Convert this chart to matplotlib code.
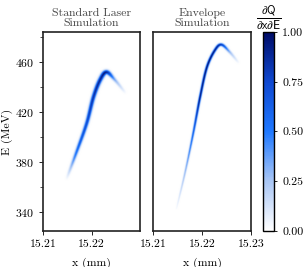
import numpy as np
import matplotlib
matplotlib.use("Agg")
import matplotlib.pyplot as plt
from matplotlib.colors import LinearSegmentedColormap

plt.rcParams['font.family'] = 'serif'
plt.rcParams['font.serif'] = ['cmr10', 'DejaVu Serif']
plt.rcParams['mathtext.fontset'] = 'cm'
plt.rcParams['axes.formatter.use_mathtext'] = True

# ridge of the charge density
std_x = [15.2149, 15.2169, 15.2190, 15.2204, 15.2218, 15.2231, 15.2248, 15.2269]
std_E = [367, 388, 411, 432, 446, 452, 446, 436]
std_I = [0.03, 0.55, 0.75, 0.85, 0.9, 0.9, 0.35, 0.03]
std_w = [1.0, 1.2, 1.3, 1.4, 1.5, 1.5, 1.2, 1.0]

env_x = [15.2148, 15.2165, 15.2182, 15.2196, 15.2210, 15.2227, 15.2240, 15.2257, 15.2274]
env_E = [343, 371, 403, 432, 456, 470, 474, 468, 460]
env_I = [0.03, 0.3, 0.65, 1.0, 1.0, 0.95, 0.8, 0.3, 0.03]
env_w = [0.6, 0.7, 0.8, 0.85, 0.9, 0.95, 1.0, 1.0, 0.9]

xlim = (15.21, 15.23)
ylim = (325, 484)
sx = 97 / 0.02   # px per mm
sy = 1.25        # px per MeV

cmap = LinearSegmentedColormap.from_list(
    'q', [(0, '#ffffff'), (0.25, '#a9c6f5'), (0.5, '#1f78ff'), (0.75, '#0f48d0'), (1, '#000c66')])


def catmull(p, n=40):
    # smooth path through the ridge points
    p = np.asarray(p, float)
    q = np.concatenate([[2 * p[0] - p[1]], p, [2 * p[-1] - p[-2]]])
    out = []
    for i in range(1, len(q) - 2):
        t = np.linspace(0, 1, n, endpoint=False)
        a, b, c, d = q[i - 1], q[i], q[i + 1], q[i + 2]
        out.append(0.5 * (2 * b + (-a + c) * t + (2 * a - 5 * b + 4 * c - d) * t ** 2
                          + (-a + 3 * b - 3 * c + d) * t ** 3))
    out.append([p[-1]])
    return np.concatenate(out)


def density(px, pE, pI, pw, n=450):
    xs = catmull(px)
    Es = catmull(pE)
    Is = np.clip(catmull(pI), 0, 1)
    ws = catmull(pw)
    gx = np.linspace(*xlim, n)
    gE = np.linspace(*ylim, n)
    X, Y = np.meshgrid(gx, gE)
    out = np.zeros_like(X)
    for xi, Ei, Ii, wi in zip(xs, Es, Is, ws):
        d2 = ((X - xi) * sx) ** 2 + ((Y - Ei) * sy) ** 2
        out = np.maximum(out, Ii * np.exp(-d2 / (2 * wi ** 2)))
    return out


fs = 8.5
fig = plt.figure(figsize=(3.03, 2.67), dpi=100)
ax1 = fig.add_axes([0.142, 0.135, 0.320, 0.745])
ax2 = fig.add_axes([0.505, 0.135, 0.323, 0.745])
cax = fig.add_axes([0.868, 0.135, 0.036, 0.745])

for ax, data, title in [(ax1, density(std_x, std_E, std_I, std_w), 'Standard Laser\nSimulation'),
                        (ax2, density(env_x, env_E, env_I, env_w), 'Envelope\nSimulation')]:
    im = ax.imshow(data, origin='lower', extent=(*xlim, *ylim), aspect='auto',
                   cmap=cmap, vmin=0, vmax=1, interpolation='antialiased')
    ax.set_xlim(*xlim)
    ax.set_ylim(*ylim)
    ax.set_title(title, fontsize=fs, color='#444444', pad=4, linespacing=1.1)
    ax.set_xlabel('x (mm)', fontsize=fs, labelpad=6)
    for s in ax.spines.values():
        s.set_linewidth(1.2)
        s.set_color('#222222')
    ax.tick_params(labelsize=fs, direction='out', length=3, width=0.6)

ax1.set_xticks([15.21, 15.22])
ax1.set_xticklabels(['15.21', '15.22'])
ax1.set_yticks([340, 380, 420, 460])
ax1.set_yticks([360, 400, 440, 480], minor=True)
ax1.tick_params(axis='y', which='minor', length=2, width=0.5)
ax1.set_ylabel('E (MeV)', fontsize=fs, labelpad=1)

ax2.set_xticks([15.21, 15.22, 15.23])
ax2.set_xticklabels(['15.21', '15.22', '15.23'])
ax2.set_yticks([])

cb = fig.colorbar(im, cax=cax)
cb.set_ticks([0, 0.25, 0.5, 0.75, 1.0])
cb.set_ticklabels(['0.00', '0.25', '0.50', '0.75', '1.00'])
cb.ax.tick_params(labelsize=fs, length=2.5, width=0.6)
cb.outline.set_linewidth(1.0)
cax.set_title(r'$\frac{\partial \mathsf{Q}}{\partial \mathsf{x} \partial \mathsf{E}}$', fontsize=12, pad=3)

fig.savefig('out.png', dpi=100)
